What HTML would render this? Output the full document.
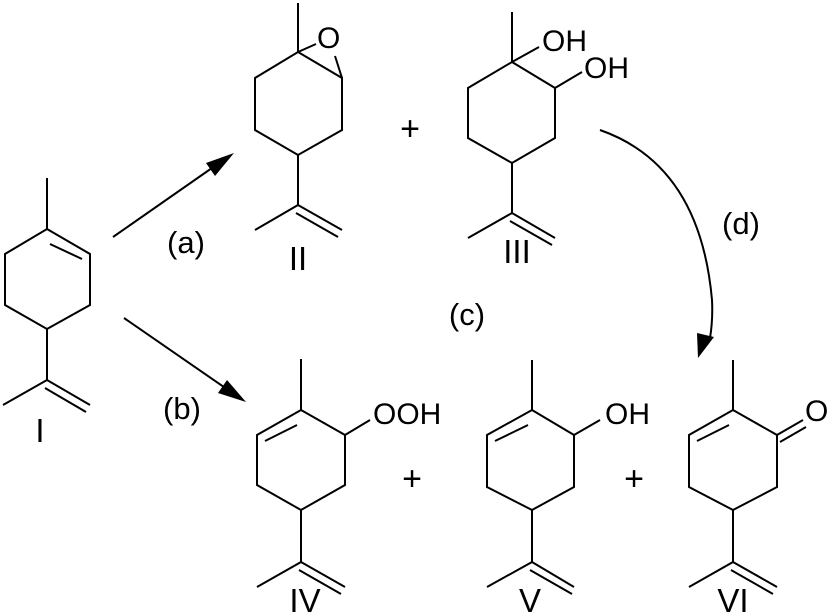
<!DOCTYPE html>
<html><head><meta charset="utf-8"><style>
html,body{margin:0;padding:0;background:#fff;}
svg{display:block;}
text{font-family:"Liberation Sans",Arial,sans-serif;fill:#000;}
</style></head><body>
<svg width="832" height="614" viewBox="0 0 832 614" xmlns="http://www.w3.org/2000/svg">
<g stroke="#000" stroke-width="2" fill="none" stroke-linecap="butt">
<line x1="47" y1="178" x2="47" y2="229"/>
<path d="M47,229 L90,254 L90,305 L47,329 L5,305 L5,254 Z"/>
<line x1="50" y1="244" x2="82" y2="259"/>
<path d="M47,329 L47,380 L3,405"/>
<line x1="47" y1="380" x2="90" y2="405"/>
<line x1="45" y1="388" x2="86" y2="412"/>
<line x1="298" y1="3" x2="298" y2="52"/>
<path d="M298,52 L342,78 L342,130 L298,155 L255,130 L255,78 Z"/>
<line x1="298" y1="52" x2="316" y2="44"/>
<line x1="342" y1="78" x2="335" y2="56"/>
<path d="M298,155 L298,205 L255,230"/>
<line x1="298" y1="205" x2="342" y2="230"/>
<line x1="296" y1="213" x2="338" y2="237"/>
<line x1="512" y1="12" x2="512" y2="62"/>
<path d="M512,62 L555,88 L555,138 L512,163 L468,138 L468,88 Z"/>
<line x1="512" y1="62" x2="539" y2="47"/>
<line x1="555" y1="88" x2="582" y2="72"/>
<path d="M512,163 L512,213 L468,238"/>
<line x1="512" y1="213" x2="555" y2="238"/>
<line x1="510" y1="221" x2="552" y2="245"/>
<line x1="301" y1="359" x2="301" y2="410"/>
<path d="M301,410 L345,435 L345,485 L301,510 L257,485 L257,435 Z"/>
<line x1="265" y1="441" x2="297" y2="425"/>
<line x1="345" y1="435" x2="370" y2="420"/>
<path d="M301,510 L301,562 L257,587"/>
<line x1="301" y1="562" x2="345" y2="587"/>
<line x1="299" y1="570" x2="341" y2="594"/>
<line x1="532" y1="360" x2="532" y2="410"/>
<path d="M532,410 L574,435 L574,487 L532,510 L487,487 L487,435 Z"/>
<line x1="495" y1="441" x2="528" y2="425"/>
<line x1="574" y1="435" x2="600" y2="420"/>
<path d="M532,510 L532,562 L487,587"/>
<line x1="532" y1="562" x2="574" y2="587"/>
<line x1="530" y1="570" x2="572" y2="594"/>
<line x1="733" y1="360" x2="733" y2="410"/>
<path d="M733,410 L777,435 L777,487 L733,510 L689,487 L689,435 Z"/>
<line x1="697" y1="441" x2="729" y2="425"/>
<line x1="777" y1="435" x2="803" y2="420"/>
<line x1="780" y1="442" x2="806" y2="427"/>
<path d="M733,510 L733,562 L689,587"/>
<line x1="733" y1="562" x2="777" y2="587"/>
<line x1="731" y1="570" x2="773" y2="594"/>
<line x1="113" y1="237" x2="222" y2="161"/>
<line x1="124" y1="318" x2="234" y2="394"/>
<path d="M600,130 Q700,165 712,300 Q713,320 710,338"/>
</g>
<g fill="#000" stroke="none">
<polygon points="234,153 206,163 215,176"/>
<polygon points="246,402 218,393 227,380"/>
<polygon points="698,358 697,333 714,337"/>
</g>
<g style="font-size:30px">
<text x="317" y="48">O</text>
<text x="542" y="51">OH</text>
<text x="584" y="78">OH</text>
<text x="373" y="424">OOH</text>
<text x="605" y="424">OH</text>
<text x="805" y="421">O</text>
</g>
<g style="font-size:31px" text-anchor="middle">
<text x="186" y="253">(a)</text>
<text x="182" y="419">(b)</text>
<text x="467" y="325">(c)</text>
<text x="741" y="234">(d)</text>
</g>
<g style="font-size:34px" text-anchor="middle">
<text x="410" y="140">+</text>
<text x="412" y="490">+</text>
<text x="634" y="490">+</text>
</g>
<g style="font-size:33px" text-anchor="middle">
<text x="40" y="442">I</text>
<text x="298" y="270">II</text>
<text x="517" y="263">III</text>
<text x="305" y="612">IV</text>
<text x="530" y="612">V</text>
<text x="733" y="612">VI</text>
</g>
</svg>
</body></html>
